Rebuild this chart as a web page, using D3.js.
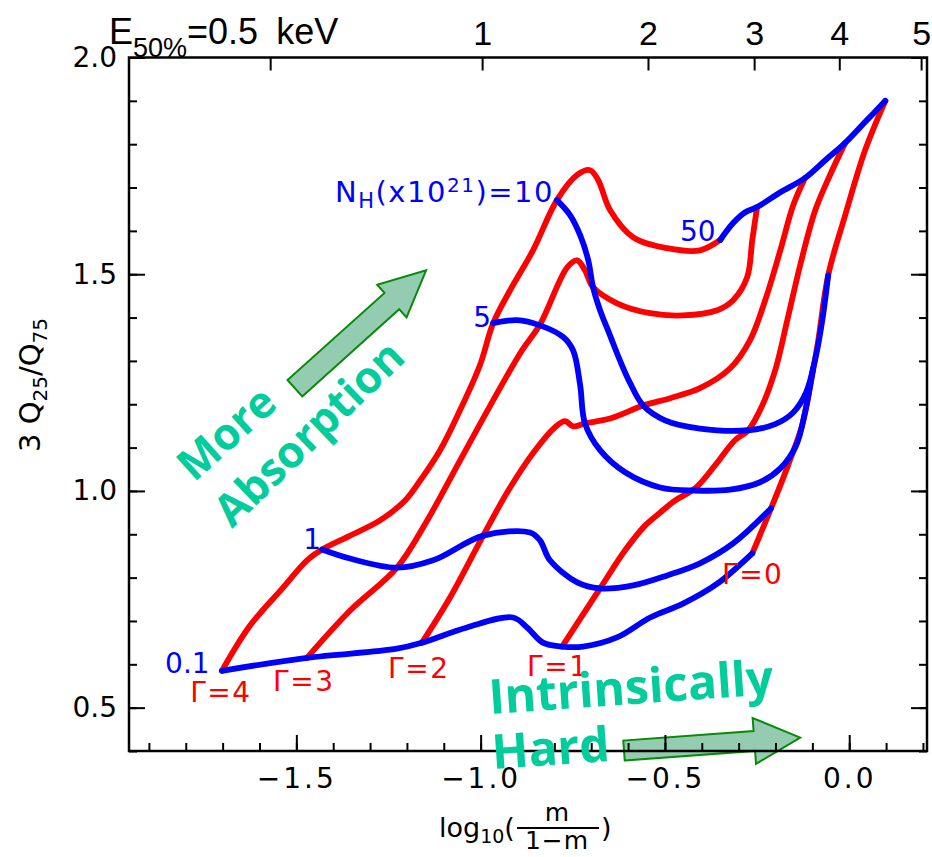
<!DOCTYPE html>
<html>
<head>
<meta charset="utf-8">
<script src="https://cdn.jsdelivr.net/npm/d3@7"></script>
<style>
  body { margin: 0; background: #ffffff; }
  svg { display: block; }
</style>
</head>
<body>
<svg id="chart" width="932" height="857"></svg>
<script>
// ---- axis extents and ticks ----
const xDomain = [-1.954, 0.211];
const yDomain = [0.4, 2.0];
const xMajorTicks = [-1.5, -1.0, -0.5, 0.0];
const yMajorTicks = [0.5, 1.0, 1.5, 2.0];
const xMinorTicks = [-1.9, -1.8, -1.7, -1.6, -1.5, -1.4, -1.3, -1.2, -1.1, -1.0, -0.9, -0.8, -0.7, -0.6, -0.5, -0.4, -0.3, -0.2, -0.1, 0.0, 0.1, 0.2];
const yMinorTicks = [0.4, 0.5, 0.6, 0.7, 0.8, 0.9, 1.0, 1.1, 1.2, 1.3, 1.4, 1.5, 1.6, 1.7, 1.8, 1.9, 2.0];
// median energy (keV) marked on the top axis, at its log10(m/(1-m)) position
const energyValues = [0.5, 1, 2, 3, 4, 5];
const energyTickPos = [-1.571, -0.996, -0.546, -0.258, -0.027, 0.195];

// ---- constant photon index tracks (x = log10(m/(1-m)), y = 3 Q25/Q75) ----
const gamma4 = [[-1.702,0.585],[-1.626,0.689],[-1.536,0.777],[-1.471,0.840],[-1.430,0.865],[-1.354,0.897],[-1.273,0.932],[-1.205,0.978],[-1.164,1.024],[-1.110,1.094],[-1.056,1.186],[-1.002,1.290],[-0.966,1.387],[-0.920,1.463],[-0.858,1.555],[-0.793,1.671],[-0.738,1.729],[-0.703,1.740],[-0.681,1.717],[-0.649,1.648],[-0.586,1.585],[-0.494,1.560],[-0.405,1.555],[-0.350,1.579]];
const gamma3 = [[-1.471,0.615],[-1.354,0.724],[-1.227,0.823],[-1.145,0.932],[-1.056,1.070],[-0.974,1.197],[-0.888,1.324],[-0.839,1.384],[-0.765,1.516],[-0.738,1.532],[-0.717,1.509],[-0.695,1.470],[-0.630,1.433],[-0.540,1.410],[-0.451,1.405],[-0.358,1.417],[-0.315,1.440],[-0.277,1.493],[-0.263,1.579],[-0.250,1.655]];
const gamma2 = [[-1.159,0.650],[-1.083,0.754],[-0.993,0.897],[-0.920,1.008],[-0.852,1.094],[-0.798,1.147],[-0.771,1.161],[-0.749,1.149],[-0.717,1.156],[-0.649,1.167],[-0.559,1.197],[-0.486,1.214],[-0.405,1.237],[-0.323,1.283],[-0.269,1.348],[-0.228,1.440],[-0.187,1.555],[-0.152,1.659],[-0.120,1.722]];
const gamma1 = [[-0.779,0.641],[-0.676,0.775],[-0.608,0.863],[-0.554,0.920],[-0.513,0.950],[-0.472,0.978],[-0.418,1.006],[-0.364,1.059],[-0.310,1.117],[-0.274,1.140],[-0.236,1.197],[-0.201,1.278],[-0.168,1.394],[-0.133,1.521],[-0.092,1.648],[-0.052,1.729],[-0.011,1.803]];
const gamma0 = [[-0.263,0.856],[-0.212,0.960],[-0.166,1.059],[-0.128,1.151],[-0.103,1.255],[-0.084,1.348],[-0.057,1.498],[-0.011,1.636],[0.043,1.786],[0.098,1.900]];

// ---- constant column density tracks (NH in units of 1e21 cm^-2) ----
const nh01 = [[-1.702,0.585],[-1.471,0.615],[-1.227,0.636],[-1.159,0.650],[-1.037,0.685],[-0.912,0.708],[-0.874,0.685],[-0.831,0.650],[-0.779,0.641],[-0.722,0.641],[-0.630,0.662],[-0.540,0.708],[-0.451,0.740],[-0.358,0.786],[-0.263,0.856]];
const nh1 = [[-1.430,0.865],[-1.354,0.844],[-1.227,0.823],[-1.129,0.840],[-0.993,0.897],[-0.866,0.904],[-0.839,0.886],[-0.812,0.840],[-0.738,0.789],[-0.676,0.775],[-0.586,0.782],[-0.494,0.805],[-0.405,0.833],[-0.315,0.879],[-0.212,0.960]];
const nh5 = [[-0.966,1.387],[-0.901,1.394],[-0.839,1.382],[-0.776,1.355],[-0.749,1.324],[-0.730,1.244],[-0.717,1.156],[-0.676,1.094],[-0.608,1.043],[-0.513,1.008],[-0.418,1.001],[-0.323,1.003],[-0.242,1.020],[-0.187,1.052],[-0.144,1.105],[-0.120,1.181],[-0.098,1.283]];
const nh10 = [[-0.793,1.671],[-0.757,1.636],[-0.730,1.590],[-0.708,1.532],[-0.695,1.470],[-0.676,1.417],[-0.649,1.359],[-0.622,1.301],[-0.594,1.248],[-0.559,1.197],[-0.500,1.163],[-0.405,1.144],[-0.274,1.140],[-0.201,1.154],[-0.152,1.181],[-0.117,1.227],[-0.090,1.313],[-0.073,1.394],[-0.057,1.498]];
const nh50 = [[-0.350,1.579],[-0.315,1.618],[-0.282,1.643],[-0.250,1.655],[-0.187,1.689],[-0.120,1.722],[-0.065,1.763],[-0.011,1.803],[0.043,1.851],[0.098,1.900]];

const gammaTracks = [gamma4, gamma3, gamma2, gamma1, gamma0];
const nhTracks = [nh01, nh1, nh5, nh10, nh50];

const gammaLabels = ["Γ=4", "Γ=3", "Γ=2", "Γ=1", "Γ=0"];
// label anchors in data units (left end of the text baseline)
const gammaLabelPos = [[-1.788,0.512],[-1.563,0.539],[-1.251,0.569],[-0.874,0.574],[-0.345,0.786]];
const nhLabelPos = {
  "0.1": [-1.856, 0.581],
  "1": [-1.481, 0.866],
  "5": [-1.020, 1.378],
  "50": [-0.459, 1.576]
};
const nhTitlePos = [-1.395, 1.666];

// annotation arrows: [tail, tip] in data units
const absorptionArrow = [[-1.504, 1.237], [-1.148, 1.509]];
const hardArrow = [[-0.611, 0.401], [-0.133, 0.431]];

// ---- drawing ----
const svg = d3.select("#chart");
const plotLeft = 129, plotRight = 927, plotTop = 57.5, plotBottom = 751;
const x = d3.scaleLinear().domain(xDomain).range([plotLeft, plotRight]);
const y = d3.scaleLinear().domain(yDomain).range([plotBottom, plotTop]);

const TEAL = "#00cc9c";
const tickFont = "'DejaVu Sans', sans-serif";
const narrowFont = "'Liberation Sans Narrow', 'Liberation Sans', sans-serif";

function arrowPath(a, b, halfShaft, halfHead, headLen) {
  const x0 = x(a[0]), y0 = y(a[1]), x1 = x(b[0]), y1 = y(b[1]);
  const dx = x1 - x0, dy = y1 - y0, L = Math.hypot(dx, dy);
  const ux = dx / L, uy = dy / L, nx = -uy, ny = ux;
  const hx = x1 - ux * headLen, hy = y1 - uy * headLen;
  const p = [
    [x0 + nx * halfShaft, y0 + ny * halfShaft],
    [hx + nx * halfShaft, hy + ny * halfShaft],
    [hx + nx * halfHead, hy + ny * halfHead],
    [x1, y1],
    [hx - nx * halfHead, hy - ny * halfHead],
    [hx - nx * halfShaft, hy - ny * halfShaft],
    [x0 - nx * halfShaft, y0 - ny * halfShaft]
  ];
  return "M" + p.map(q => q.join(",")).join("L") + "Z";
}

// arrows sit beneath the axes so tick marks show through
svg.append("path")
  .attr("d", arrowPath(absorptionArrow[0], absorptionArrow[1], 11, 22, 46))
  .attr("fill", "#94ccb2").attr("stroke", "#0a8a0a").attr("stroke-width", 2);
svg.append("path")
  .attr("d", arrowPath(hardArrow[0], hardArrow[1], 10, 23, 46))
  .attr("fill", "#94ccb2").attr("stroke", "#0a8a0a").attr("stroke-width", 2);

// tracks
const line = d3.line()
  .x(d => x(d[0])).y(d => y(d[1]))
  .curve(d3.curveCatmullRom.alpha(0.5));

svg.append("g").selectAll("path").data(gammaTracks).join("path")
  .attr("d", line).attr("fill", "none")
  .attr("stroke", "#ff0000").attr("stroke-width", 5.8)
  .attr("stroke-linecap", "round").attr("stroke-linejoin", "round");
svg.append("g").selectAll("path").data(nhTracks).join("path")
  .attr("d", line).attr("fill", "none")
  .attr("stroke", "#0000ff").attr("stroke-width", 5.8)
  .attr("stroke-linecap", "round").attr("stroke-linejoin", "round");

// axes
function styleAxis(g) {
  g.select(".domain").remove();
  g.selectAll(".tick line").attr("stroke", "#000").attr("stroke-width", 2);
  g.selectAll("text").attr("font-family", tickFont).attr("font-size", 28).attr("fill", "#000");
}
svg.append("g").attr("transform", `translate(0,${plotBottom})`)
  .call(d3.axisBottom(x).tickValues(xMinorTicks).tickSize(-8).tickFormat("")).call(styleAxis);
svg.append("g").attr("transform", `translate(0,${plotBottom})`)
  .call(d3.axisBottom(x).tickValues(xMajorTicks).tickSize(-16).tickPadding(17).tickFormat(d3.format(".1f")))
  .call(styleAxis)
  .call(g => g.selectAll("text").attr("letter-spacing", 3));
svg.append("g").attr("transform", `translate(${plotLeft},0)`)
  .call(d3.axisLeft(y).tickValues(yMinorTicks).tickSize(-8).tickFormat("")).call(styleAxis);
svg.append("g").attr("transform", `translate(${plotLeft},0)`)
  .call(d3.axisLeft(y).tickValues(yMajorTicks).tickSize(-16).tickPadding(12).tickFormat(d3.format(".1f")))
  .call(styleAxis);
svg.append("g").attr("transform", `translate(${plotRight},0)`)
  .call(d3.axisRight(y).tickValues(yMinorTicks).tickSize(-8).tickFormat("")).call(styleAxis);
svg.append("g").attr("transform", `translate(${plotRight},0)`)
  .call(d3.axisRight(y).tickValues(yMajorTicks).tickSize(-16).tickFormat("")).call(styleAxis);
const topAxis = svg.append("g").attr("transform", `translate(0,${plotTop})`)
  .call(d3.axisTop(x).tickValues(energyTickPos).tickSize(-13).tickPadding(13)
    .tickFormat((d, i) => i === 0 ? "" : String(energyValues[i])))
  .call(styleAxis);
topAxis.selectAll("text").attr("font-family", narrowFont).attr("font-size", 34);

svg.append("rect")
  .attr("x", plotLeft).attr("y", plotTop).attr("width", plotRight - plotLeft).attr("height", plotBottom - plotTop)
  .attr("fill", "none").attr("stroke", "#000").attr("stroke-width", 2.5);

// top axis caption
const eLab = svg.append("text")
  .attr("x", 109).attr("y", 44)
  .attr("font-family", narrowFont)
  .attr("font-size", 36).attr("fill", "#000");
eLab.append("tspan").text("E");
eLab.append("tspan").attr("dy", 13).attr("font-size", 27).text("50%");
eLab.append("tspan").attr("dy", -13).text("=" + energyValues[0] + " ");
eLab.append("tspan").attr("dx", 8).text("keV");

// axis titles
const yTitle = svg.append("text")
  .attr("transform", "translate(40,385) rotate(-90)")
  .attr("text-anchor", "middle")
  .attr("font-family", tickFont).attr("font-size", 29).attr("fill", "#000");
yTitle.append("tspan").text("3 Q");
yTitle.append("tspan").attr("dy", 7).attr("font-size", 20).text("25");
yTitle.append("tspan").attr("dy", -7).text("/Q");
yTitle.append("tspan").attr("dy", 7).attr("font-size", 20).text("75");

const xt = svg.append("g").attr("font-family", tickFont).attr("fill", "#000");
const logText = xt.append("text").attr("x", 439).attr("y", 837).attr("font-size", 27);
logText.append("tspan").text("log");
logText.append("tspan").attr("dy", 6).attr("font-size", 19).text("10");
logText.append("tspan").attr("dy", -6).text("(");
xt.append("text").attr("x", 557).attr("y", 821).attr("text-anchor", "middle").attr("font-size", 25).text("m");
xt.append("line").attr("x1", 517).attr("x2", 599).attr("y1", 828).attr("y2", 828).attr("stroke", "#000").attr("stroke-width", 2);
xt.append("text").attr("x", 557).attr("y", 849).attr("text-anchor", "middle").attr("font-size", 25).attr("letter-spacing", 1).text("1−m");
xt.append("text").attr("x", 601).attr("y", 837).attr("font-size", 27).text(")");

// track labels
svg.append("g").selectAll("text").data(gammaLabels).join("text")
  .attr("x", (d, i) => x(gammaLabelPos[i][0]))
  .attr("y", (d, i) => y(gammaLabelPos[i][1]))
  .attr("font-family", tickFont).attr("font-size", 28).attr("letter-spacing", 1.5)
  .attr("fill", "#ff0000").text(d => d);

const nhG = svg.append("g").attr("font-family", tickFont).attr("font-size", 28).attr("fill", "#0000ff");
Object.entries(nhLabelPos).forEach(([t, p]) => {
  nhG.append("text").attr("x", x(p[0])).attr("y", y(p[1])).text(t);
});
const nhTitle = nhG.append("text").attr("x", x(nhTitlePos[0])).attr("y", y(nhTitlePos[1]))
  .attr("font-size", 29).attr("letter-spacing", 1.5);
nhTitle.append("tspan").text("N");
nhTitle.append("tspan").attr("dy", 6).attr("font-size", 21).text("H");
nhTitle.append("tspan").attr("dy", -6).text("(x10");
nhTitle.append("tspan").attr("dy", -10).attr("font-size", 20).text("21");
nhTitle.append("tspan").attr("dy", 10).text(")=10");

// annotations
const ann = svg.append("g").attr("font-family", "'Open Sans', sans-serif").attr("font-weight", 700)
  .attr("fill", TEAL);
ann.append("text").attr("transform", "translate(194,483) rotate(-42)").attr("font-size", 44).text("More");
ann.append("text").attr("transform", "translate(232,529) rotate(-44)").attr("font-size", 44).text("Absorption");
ann.append("text").attr("transform", "translate(490,714) rotate(-4)").attr("font-size", 48).text("Intrinsically");
ann.append("text").attr("transform", "translate(493,769) rotate(-4)").attr("font-size", 48).text("Hard");
</script>
</body>
</html>
